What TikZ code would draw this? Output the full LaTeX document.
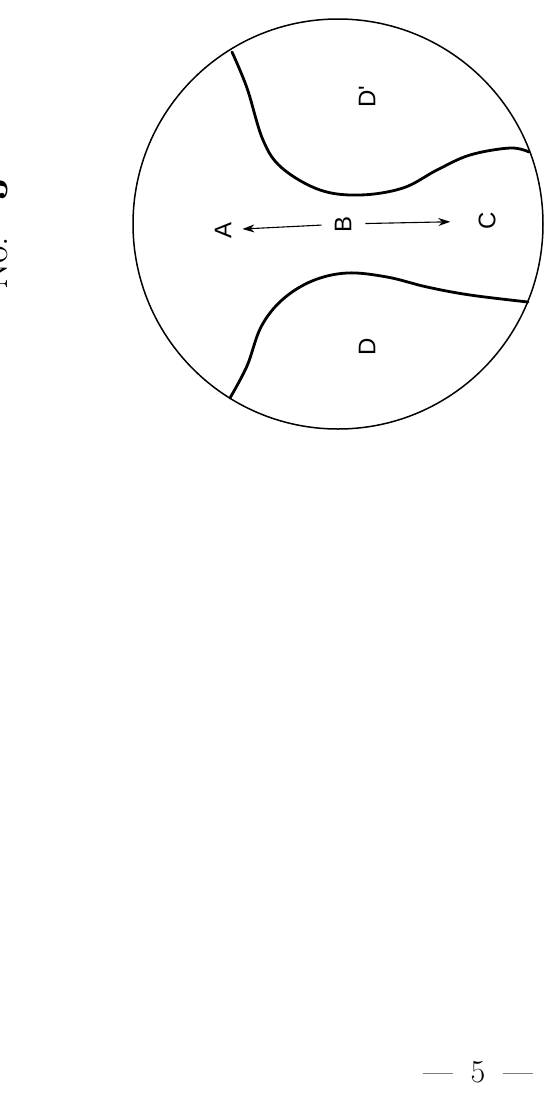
\documentclass[tikz,border=0pt]{standalone}
\usepackage{fontspec}
\newfontfamily\labelfont{Liberation Sans}
\usepackage{tikz}
\usetikzlibrary{arrows.meta}

\tikzset{lbl/.style={rotate=90, inner sep=0pt, font=\labelfont\fontsize{24}{26}\selectfont},
  edge/.style={line width=2.8pt, line cap=round}}

\begin{document}
\begin{tikzpicture}[x=1pt, y=-1pt, >={Stealth[length=12pt,width=8pt]}]
\useasboundingbox (0,0) rectangle (559,1096);
\node (no) at (7,290) [anchor=base west, rotate=90, inner sep=0pt, font=\fontsize{38}{40}\selectfont] {No.\hspace{36pt}\textbf{3}};
\draw[line width=1.5pt] (338,224) circle (205pt);
\draw[edge] plot[smooth, tension=0.6] coordinates {(232,52) (247,88) (263,140) (282,168) (320,190) (360,195) (403,188) (437,170) (470,155) (510,148) (529,152)};
\draw[edge] plot[smooth, tension=0.6] coordinates {(230,398) (247,366) (261,327) (282,300) (312,281) (347,273) (387,277) (427,287) (470,295) (528,302)};
\node (A) at (223,230) [lbl] {A};
\node (B) at (343,224) [lbl] {B};
\node (C) at (487,221) [lbl] {C};
\node (D) at (367,347) [lbl] {D};
\node (Dp) at (367,97) [lbl] {D'};
\draw[->, line width=1.1pt, shorten <=13pt, shorten >=11pt] (B) -- (A);
\draw[->, line width=1.1pt, shorten <=14pt, shorten >=28pt] (B) -- (C);
\node (page) at (478,1072) [inner sep=0pt, font=\fontsize{32}{34}\selectfont] {—\hspace{18pt}5\hspace{18pt}—};
\end{tikzpicture}
\end{document}
